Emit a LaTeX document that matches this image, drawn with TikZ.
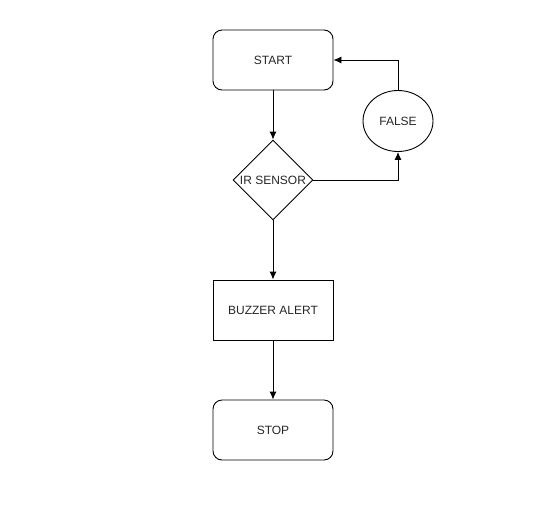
\documentclass[tikz,border=0pt]{standalone}
\usepackage{fontspec}
\setmainfont{Liberation Sans}
\usetikzlibrary{arrows.meta,shapes.geometric}
\tikzset{
  box/.style={draw, minimum width=120pt, minimum height=60pt, inner sep=0pt, text=black!85},
  terminal/.style={box, rounded corners=9pt},
  decision/.style={diamond, draw, minimum width=80pt, minimum height=80pt, inner sep=0pt},
  outcome/.style={ellipse, draw, minimum width=70pt, minimum height=61pt, inner sep=0pt, text=black!85},
  flow/.style={-{Latex[length=8pt,width=7pt]}}
}
\begin{document}
\begin{tikzpicture}[x=1pt,y=-1pt,line width=0.9pt,font=\fontsize{12}{14}\selectfont]
			%%%%% START %%%%%
			\useasboundingbox (0,0) rectangle (548,509);
			
			\node[terminal] (start) at (273,60) {START};
			\node[decision, label={[text=black!85]center:IR SENSOR}] (sensor) at (273,180) {};
			\node[outcome] (false) at (398,121) {FALSE};
			\node[box] (buzzer) at (273,310) {BUZZER ALERT};
			\node[terminal] (stop) at (273,430) {STOP};
			
			\draw[flow] (start) -- (sensor);
			\draw[flow] (sensor.east) -| (false.south);
			\draw[flow] (false.north) |- (start.east);
			\draw[flow] (sensor) -- (buzzer);
			\draw[flow] (buzzer) -- (stop);
			
			%%%%% END %%%%%
\end{tikzpicture}
\end{document}
